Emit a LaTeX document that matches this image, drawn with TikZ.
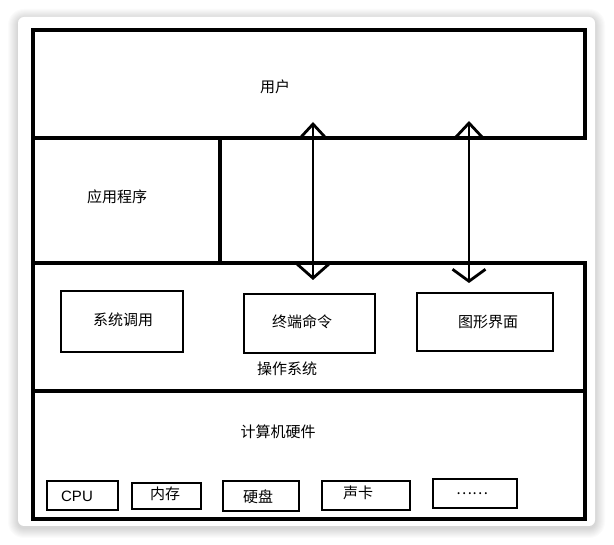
\documentclass[tikz,border=0pt]{standalone}
\usepackage{fontspec}
\setmainfont{Noto Sans CJK SC}
\newfontfamily\latinsf{Liberation Sans}
\usetikzlibrary{arrows.meta}
\tikzset{
  frameline/.style={line width=3.8pt, line cap=rect, line join=miter},
  hwbox/.style={draw, line width=1.8pt, inner sep=0pt},
  osbox/.style={draw, line width=1.8pt, inner sep=0pt},
  lbl/.style={font=\fontsize{15}{18}\selectfont, inner sep=0pt},
  biarrow/.style={line width=2.6pt},
}
\begin{document}
\begin{tikzpicture}[x=1pt,y=-1pt]
\useasboundingbox (0,0) rectangle (614,545);
\fill[white] (0,0) rectangle (614,545);
% card shadow
\foreach \i in {1,...,10}{
  \fill[black, opacity=0.016, rounded corners={6pt+\i pt}] ({18-\i},{17-\i+2}) rectangle ({595+\i},{526+\i+2});
}
\fill[white, rounded corners=6pt] (18,17) rectangle (595,526);

% outer frame (right side open between 138 and 263)
\draw[frameline] (585,138) -- (585,30) -- (33,30) -- (33,519) -- (585,519) -- (585,263);
\draw[frameline] (33,138) -- (585,138);
\draw[frameline] (33,263) -- (585,263);
\draw[frameline] (33,391) -- (585,391);
\draw[line width=3.6pt] (220,138) -- (220,263);

% labels of layers
\node[lbl] (user) at (275,87) {用户};
\node[lbl] (app) at (117,197) {应用程序};
\node[lbl] (os) at (287,369) {操作系统};
\node[lbl] (hw) at (278,432) {计算机硬件};

% OS boxes
\node[osbox, minimum width=122pt, minimum height=61pt] (syscall) at (122,321.5) {};
\node[lbl] (syscallt) at (123,320) {系统调用};
\node[osbox, minimum width=131pt, minimum height=59pt] (term) at (309.5,323.5) {};
\node[lbl] (termt) at (302,322) {终端命令};
\node[osbox, minimum width=136pt, minimum height=58pt] (gui) at (485,322) {};
\node[lbl] (guit) at (488,322) {图形界面};

% hardware boxes
\node[hwbox, minimum width=71pt, minimum height=29pt] (cpu) at (82.5,495.5) {};
\node[lbl, font=\latinsf\fontsize{15}{18}\selectfont] (cput) at (77,496) {CPU};
\node[hwbox, minimum width=69pt, minimum height=26pt] (mem) at (166.5,496) {};
\node[lbl] (memt) at (165,494) {内存};
\node[hwbox, minimum width=76pt, minimum height=30pt] (disk) at (261,496) {};
\node[lbl] (diskt) at (258,497) {硬盘};
\node[hwbox, minimum width=88pt, minimum height=29pt] (sound) at (366,495.5) {};
\node[lbl] (soundt) at (358,493) {声卡};
\node[hwbox, minimum width=84pt, minimum height=29pt] (more) at (475,493.5) {};
\node[lbl] (moret) at (472,494) {……};

% arrows between user and OS
\coordinate (a1top) at (313,122);
\coordinate (a1bot) at (313,280);
\coordinate (a2top) at (469,121);
\coordinate (a2bot) at (469,283);
\draw[biarrow, {Straight Barb[length=13pt,width=24pt,line width=2.8pt]}-{Straight Barb[length=15pt,width=34pt,line width=2.8pt]}] (a1top) -- (a1bot);
\draw[biarrow, {Straight Barb[length=15pt,width=28pt,line width=2.8pt]}-{Straight Barb[length=12pt,width=33pt,line width=2.8pt]}] (a2top) -- (a2bot);
\end{tikzpicture}
\end{document}
